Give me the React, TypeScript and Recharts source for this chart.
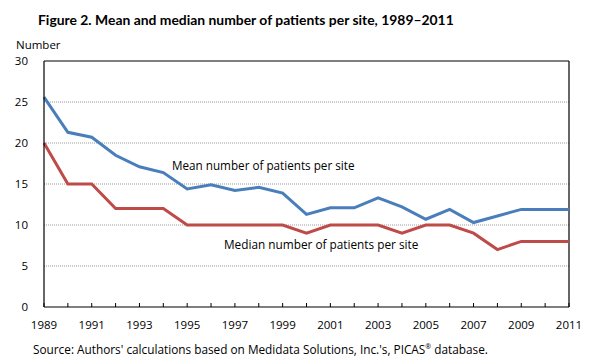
import React from "react";
import { LineChart, Line, XAxis, YAxis, ReferenceLine } from "recharts";

const years = [1989,1990,1991,1992,1993,1994,1995,1996,1997,1998,1999,2000,2001,2002,2003,2004,2005,2006,2007,2008,2009,2010,2011];
const meanValues = [25.6,21.3,20.7,18.5,17.1,16.4,14.4,14.9,14.2,14.6,13.9,11.3,12.1,12.1,13.3,12.2,10.7,11.9,10.3,11.1,11.9,11.9,11.9];
const medianValues = [20,15,15,12,12,12,10,10,10,10,10,9,10,10,10,9,10,10,9,7,8,8,8];
const yTicks = [0,5,10,15,20,25,30];
const gridValues = [5,10,15,20,25];
const labeledYears = [1989,1991,1993,1995,1997,1999,2001,2003,2005,2007,2009,2011];

const data = years.map((y, i) => ({ year: y, mean: meanValues[i], median: medianValues[i] }));

const FONT = "'Open Sans', 'Noto Sans', sans-serif";

const XTick = (props: any) => {
  const { x, y, payload } = props;
  const show = labeledYears.includes(payload.value);
  return (
    <g>
      <line x1={x} x2={x} y1={y} y2={y - 4} stroke="#000" strokeWidth={1} />
      {show && (
        <text x={x} y={y + 22} textAnchor="middle" fontSize={11.5} fontFamily={FONT} fill="#000">
          {payload.value}
        </text>
      )}
    </g>
  );
};

export default function App() {
  return (
    <div style={{ position: "absolute", left: 0, top: 0, width: 605, height: 364, background: "#fff", fontFamily: FONT }}>
      <div style={{ position: "absolute", left: 38, top: 11, fontSize: 13.9, fontWeight: 700, whiteSpace: "nowrap", fontFamily: "Lato, 'Open Sans', sans-serif" }}>
        Figure 2. Mean and median number of patients per site, 1989–2011
      </div>
      <div style={{ position: "absolute", left: 16, top: 37, fontSize: 11.5, whiteSpace: "nowrap" }}>Number</div>
      <LineChart width={605} height={364} data={data} margin={{ top: 61, right: 36, bottom: 0, left: 0 }}>
        {gridValues.map((v) => (
          <ReferenceLine key={v} y={v} stroke="#999" strokeDasharray="1 1" />
        ))}
        <ReferenceLine y={30} stroke="#000" strokeWidth={1.2} />
        <ReferenceLine x={2011} stroke="#000" strokeWidth={1.2} />
        <XAxis
          dataKey="year"
          type="number"
          domain={[1989, 2011]}
          ticks={years}
          interval={0}
          tickLine={false}
          tickSize={0}
          tickMargin={0}
          axisLine={{ stroke: "#000", strokeWidth: 1.2 }}
          tick={<XTick />}
          height={57}
        />
        <YAxis
          type="number"
          domain={[0, 30]}
          ticks={yTicks}
          interval={0}
          tickLine={false}
          axisLine={{ stroke: "#000", strokeWidth: 1.2 }}
          tick={{ fontSize: 11.5, fontFamily: FONT, fill: "#000" }}
          tickMargin={10}
          width={44}
        />
        <Line type="linear" dataKey="mean" stroke="#4a7ebb" strokeWidth={3} dot={false} isAnimationActive={false} />
        <Line type="linear" dataKey="median" stroke="#be4b48" strokeWidth={3} dot={false} isAnimationActive={false} />
      </LineChart>
      <div style={{ position: "absolute", left: 172, top: 157, fontSize: 11.7, whiteSpace: "nowrap" }}>
        Mean number of patients per site
      </div>
      <div style={{ position: "absolute", left: 224, top: 236, fontSize: 11.8, whiteSpace: "nowrap" }}>
        Median number of patients per site
      </div>
      <div style={{ position: "absolute", left: 33, top: 341, fontSize: 11.8, whiteSpace: "nowrap" }}>
        Source: Authors' calculations based on Medidata Solutions, Inc.'s, PICAS<sup style={{ fontSize: 7 }}>®</sup> database.
      </div>
    </div>
  );
}
